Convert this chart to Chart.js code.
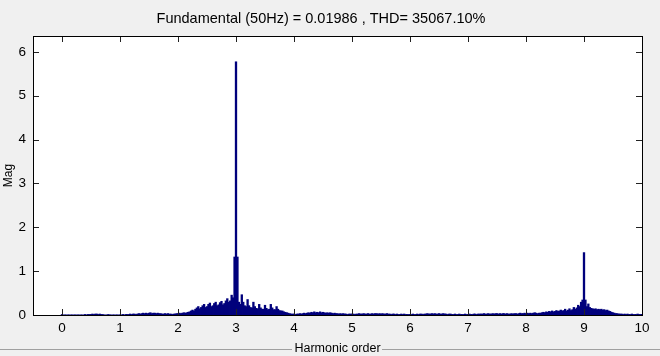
<!DOCTYPE html>
<html>
<head>
  <meta charset="UTF-8" />
  <title>FFT analysis</title>
  <script src="https://cdn.jsdelivr.net/npm/chart.js"></script>
  <style>
    html, body { margin: 0; padding: 0; background: #f0f0f0; }
    canvas { display: block; }
  </style>
</head>
<body>
  <canvas id="fft" width="660" height="356"></canvas>

  <script>
    // harmonic resolution of the spectrum (fraction of fundamental)
    const binStep = 0.025;

    // magnitudes, one array per harmonic band (k.000 .. k.975)
    const band0 = [0.02,0.01,0.01,0.01,0.01,0.01,0.01,0.01,0.01,0.01, 0.01,0.01,0.01,0.01,0.01,0.01,0.02,0.01,0.02,0.02,
                   0.02,0.03,0.02,0.03,0.03,0.02,0.03,0.02,0.02,0.01, 0.01,0.01,0.02,0.01,0.01,0.01,0.01,0.01,0.01,0.01];
    const band1 = [0.01,0.01,0.02,0.01,0.02,0.02,0.02,0.03,0.02,0.03, 0.03,0.02,0.03,0.04,0.03,0.04,0.05,0.04,0.05,0.04,
                   0.05,0.06,0.04,0.05,0.05,0.04,0.05,0.04,0.04,0.03, 0.03,0.04,0.03,0.04,0.03,0.03,0.02,0.03,0.03,0.04];
    const band2 = [0.04,0.05,0.04,0.05,0.06,0.05,0.06,0.07,0.08,0.10, 0.12,0.10,0.14,0.17,0.20,0.15,0.18,0.22,0.25,0.18,
                   0.20,0.25,0.28,0.20,0.22,0.27,0.30,0.22,0.24,0.29, 0.32,0.24,0.27,0.33,0.38,0.30,0.33,0.46,0.40,1.33];
    const band3 = [5.78,1.33,0.30,0.25,0.47,0.30,0.22,0.20,0.36,0.22, 0.18,0.17,0.30,0.20,0.16,0.15,0.25,0.17,0.14,0.14,
                   0.23,0.16,0.13,0.14,0.25,0.17,0.13,0.13,0.20,0.14, 0.11,0.10,0.10,0.08,0.07,0.06,0.05,0.04,0.03,0.03];
    const band4 = [0.03,0.02,0.03,0.03,0.04,0.03,0.04,0.05,0.04,0.05, 0.06,0.05,0.07,0.06,0.08,0.06,0.07,0.06,0.08,0.06,
                   0.07,0.06,0.05,0.06,0.05,0.06,0.05,0.04,0.05,0.04, 0.04,0.03,0.04,0.03,0.04,0.03,0.03,0.02,0.03,0.03];
    const band5 = [0.03,0.03,0.02,0.03,0.03,0.04,0.03,0.03,0.04,0.03, 0.03,0.04,0.03,0.03,0.04,0.03,0.04,0.04,0.03,0.04,
                   0.03,0.04,0.03,0.03,0.04,0.03,0.03,0.02,0.03,0.03, 0.02,0.03,0.02,0.02,0.03,0.02,0.03,0.02,0.02,0.02];
    const band6 = [0.02,0.02,0.03,0.02,0.02,0.03,0.02,0.03,0.03,0.02, 0.03,0.03,0.04,0.03,0.03,0.04,0.03,0.04,0.03,0.03,
                   0.04,0.03,0.03,0.04,0.03,0.03,0.02,0.03,0.03,0.02, 0.02,0.03,0.02,0.02,0.03,0.02,0.02,0.02,0.03,0.02];
    const band7 = [0.02,0.03,0.02,0.02,0.03,0.03,0.02,0.03,0.03,0.03, 0.03,0.04,0.03,0.03,0.04,0.03,0.03,0.04,0.03,0.04,
                   0.04,0.03,0.04,0.03,0.04,0.04,0.03,0.04,0.03,0.03, 0.04,0.03,0.04,0.04,0.03,0.04,0.05,0.04,0.04,0.05];
    const band8 = [0.04,0.05,0.04,0.05,0.04,0.05,0.06,0.05,0.04,0.05, 0.05,0.06,0.07,0.06,0.08,0.07,0.09,0.08,0.10,0.08,
                   0.09,0.11,0.09,0.10,0.12,0.10,0.11,0.14,0.10,0.12, 0.15,0.11,0.13,0.18,0.14,0.17,0.23,0.20,0.30,0.35];
    const band9 = [1.43,0.35,0.20,0.26,0.18,0.16,0.15,0.14,0.15,0.13, 0.14,0.13,0.14,0.12,0.13,0.11,0.12,0.10,0.09,0.07,
                   0.06,0.05,0.04,0.04,0.03,0.03,0.03,0.02,0.03,0.02, 0.03,0.02,0.02,0.03,0.02,0.02,0.02,0.03,0.02,0.02];
    const band10 = [0.02];

    const xTicks = [0, 1, 2, 3, 4, 5, 6, 7, 8, 9, 10];
    const yTicks = [0, 1, 2, 3, 4, 5, 6];

    const mags = [].concat(band0, band1, band2, band3, band4, band5, band6, band7, band8, band9, band10);
    const points = mags.map((m, i) => ({ x: +(i * binStep).toFixed(3), y: m }));

    const font = 'Liberation Sans, Arial, sans-serif';

    // white axes box, grey panel, inner tick marks like matlab
    const matlabFrame = {
      id: 'matlabFrame',
      beforeDraw(chart) {
        const c = chart.ctx, a = chart.chartArea;
        c.save();
        c.fillStyle = '#f0f0f0';
        c.fillRect(0, 0, chart.width, chart.height);
        c.strokeStyle = '#a0a0a0';
        c.lineWidth = 1;
        c.beginPath();
        c.moveTo(0, 349.5); c.lineTo(292, 349.5);
        c.moveTo(382, 349.5); c.lineTo(chart.width, 349.5);
        c.stroke();
        c.fillStyle = '#ffffff';
        c.fillRect(a.left, a.top, a.right - a.left, a.bottom - a.top);
        c.restore();
      },
      afterDatasetsDraw(chart) {
        const c = chart.ctx, a = chart.chartArea;
        const xs = chart.scales.x, ys = chart.scales.y;
        c.save();
        c.strokeStyle = '#222';
        c.lineWidth = 1;
        c.beginPath();
        xTicks.forEach(v => {
          const px = Math.round(xs.getPixelForValue(v)) + 0.5;
          c.moveTo(px, a.bottom); c.lineTo(px, a.bottom - 6);
          c.moveTo(px, a.top); c.lineTo(px, a.top + 6);
        });
        yTicks.forEach(v => {
          const py = Math.round(ys.getPixelForValue(v)) + 0.5;
          c.moveTo(a.left, py); c.lineTo(a.left + 6, py);
          c.moveTo(a.right, py); c.lineTo(a.right - 6, py);
        });
        c.stroke();
        c.strokeStyle = '#000';
        c.strokeRect(Math.round(a.left) + 0.5, Math.round(a.top) + 0.5,
                     Math.round(a.right - a.left), Math.round(a.bottom - a.top));
        c.restore();
      }
    };

    new Chart(document.getElementById('fft'), {
      type: 'bar',
      data: {
        datasets: [{
          data: points,
          backgroundColor: '#00007c',
          borderWidth: 0,
          barPercentage: 1.6,
          categoryPercentage: 1,
          grouped: false
        }]
      },
      options: {
        responsive: false,
        animation: false,
        devicePixelRatio: 1,
        layout: { padding: { left: 0, right: 18, top: 0, bottom: 0 } },
        plugins: {
          legend: { display: false },
          tooltip: { enabled: false },
          title: {
            display: true,
            text: 'Fundamental (50Hz) = 0.01986 , THD= 35067.10%',
            color: '#000',
            font: { family: font, size: 14.5, weight: 'normal' },
            padding: { top: 10, bottom: 8.6 }
          }
        },
        scales: {
          x: {
            type: 'linear',
            min: -0.5,
            max: 10,
            offset: false,
            grid: { display: false, drawTicks: false },
            border: { display: false },
            afterBuildTicks: s => { s.ticks = xTicks.map(v => ({ value: v })); },
            afterFit: s => { s.height = 41; },
            ticks: {
              color: '#000',
              font: { family: font, size: 13.5 },
              padding: 5,
              maxRotation: 0,
              autoSkip: false
            },
            title: {
              display: true,
              text: 'Harmonic order',
              color: '#000',
              font: { family: font, size: 12.5 },
              padding: { top: 0, bottom: 0 }
            }
          },
          y: {
            min: 0,
            max: 6.36,
            grid: { display: false, drawTicks: false },
            border: { display: false },
            afterBuildTicks: s => { s.ticks = yTicks.map(v => ({ value: v })); },
            afterFit: s => { s.width = 33; },
            ticks: {
              color: '#000',
              font: { family: font, size: 13.5 },
              padding: 7
            },
            title: {
              display: true,
              text: 'Mag',
              color: '#000',
              font: { family: font, size: 12 },
              padding: { top: 1, bottom: 0 }
            }
          }
        }
      },
      plugins: [matlabFrame]
    });
  </script>
</body>
</html>
